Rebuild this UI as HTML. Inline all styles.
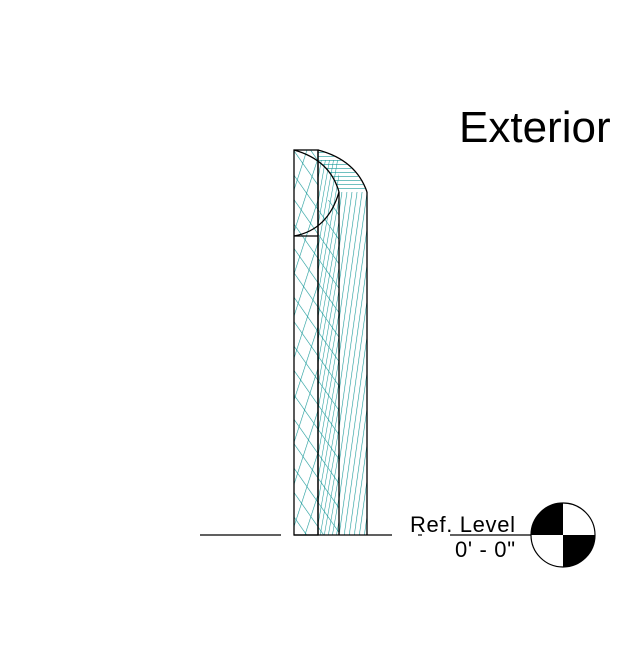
<!DOCTYPE html>
<html><head><meta charset="utf-8"><style>
html,body{margin:0;padding:0;background:#fff;width:640px;height:661px;overflow:hidden}
svg{display:block}
text{font-family:"Liberation Sans",Arial,sans-serif;fill:#000}
</style></head><body>
<svg width="640" height="661" viewBox="0 0 640 661">
<defs>
<pattern id="hA" patternUnits="userSpaceOnUse" width="13" height="60" patternTransform="rotate(18)">
<line x1="0" y1="0" x2="0" y2="60" stroke="#1a9a9a" stroke-width="1.2"/></pattern>
<pattern id="hB" patternUnits="userSpaceOnUse" width="14" height="60" patternTransform="rotate(-35)">
<line x1="0" y1="0" x2="0" y2="60" stroke="#1a9a9a" stroke-width="1.2"/></pattern>
<pattern id="hC" patternUnits="userSpaceOnUse" width="4" height="60" patternTransform="rotate(10)">
<line x1="0" y1="0" x2="0" y2="60" stroke="#1a9a9a" stroke-width="1.1"/></pattern>
<pattern id="hD" patternUnits="userSpaceOnUse" width="5" height="60" patternTransform="rotate(8)">
<line x1="0" y1="0" x2="0" y2="60" stroke="#1a9a9a" stroke-width="1.2"/></pattern>
<pattern id="hE" patternUnits="userSpaceOnUse" width="60" height="4">
<line x1="0" y1="0" x2="60" y2="0" stroke="#1a9a9a" stroke-width="1.2"/></pattern>
</defs>
<g>
<rect x="294" y="150" width="24" height="385" fill="url(#hA)"/>
<rect x="294" y="150" width="24" height="385" fill="url(#hB)"/>
<rect x="318" y="160" width="21" height="375" fill="url(#hC)"/>
<rect x="318" y="200" width="21" height="335" fill="url(#hB)"/>
<rect x="339" y="192" width="28" height="343" fill="url(#hD)"/>
<path d="M318,150 Q352,158 367,192 L339,192 Q330,168 318,160 Z" fill="url(#hE)"/>
</g>
<g fill="none" stroke="#000" stroke-width="1.3">
<rect x="294" y="150" width="24" height="385"/>
<line x1="318" y1="150" x2="318" y2="535"/>
<path d="M294,150 Q330,160 339,192"/>
<path d="M318,150 Q356,160 367,192"/>
<path d="M294,236 Q328,230 339,192"/>
<line x1="294" y1="236" x2="318" y2="236"/>
<line x1="339" y1="192" x2="339" y2="535"/>
<line x1="367" y1="192" x2="367" y2="535"/>
</g>
<g stroke="#000" stroke-width="1.2">
<line x1="200" y1="535" x2="281" y2="535"/>
<line x1="294" y1="535" x2="392" y2="535"/>
<line x1="418" y1="535" x2="422" y2="535"/>
<line x1="450" y1="535" x2="531" y2="535"/>
</g>
<text x="459" y="142" font-size="44">Exterior</text>
<text x="410" y="532" font-size="22" textLength="105">Ref. Level</text>
<text x="455" y="557" font-size="22" textLength="60">0' - 0"</text>
<g>
<circle cx="563" cy="535" r="32" fill="#fff" stroke="#000" stroke-width="1.2"/>
<path d="M563,535 L531,535 A32,32 0 0 1 563,503 Z" fill="#000"/>
<path d="M563,535 L595,535 A32,32 0 0 1 563,567 Z" fill="#000"/>
</g>
</svg>
</body></html>
